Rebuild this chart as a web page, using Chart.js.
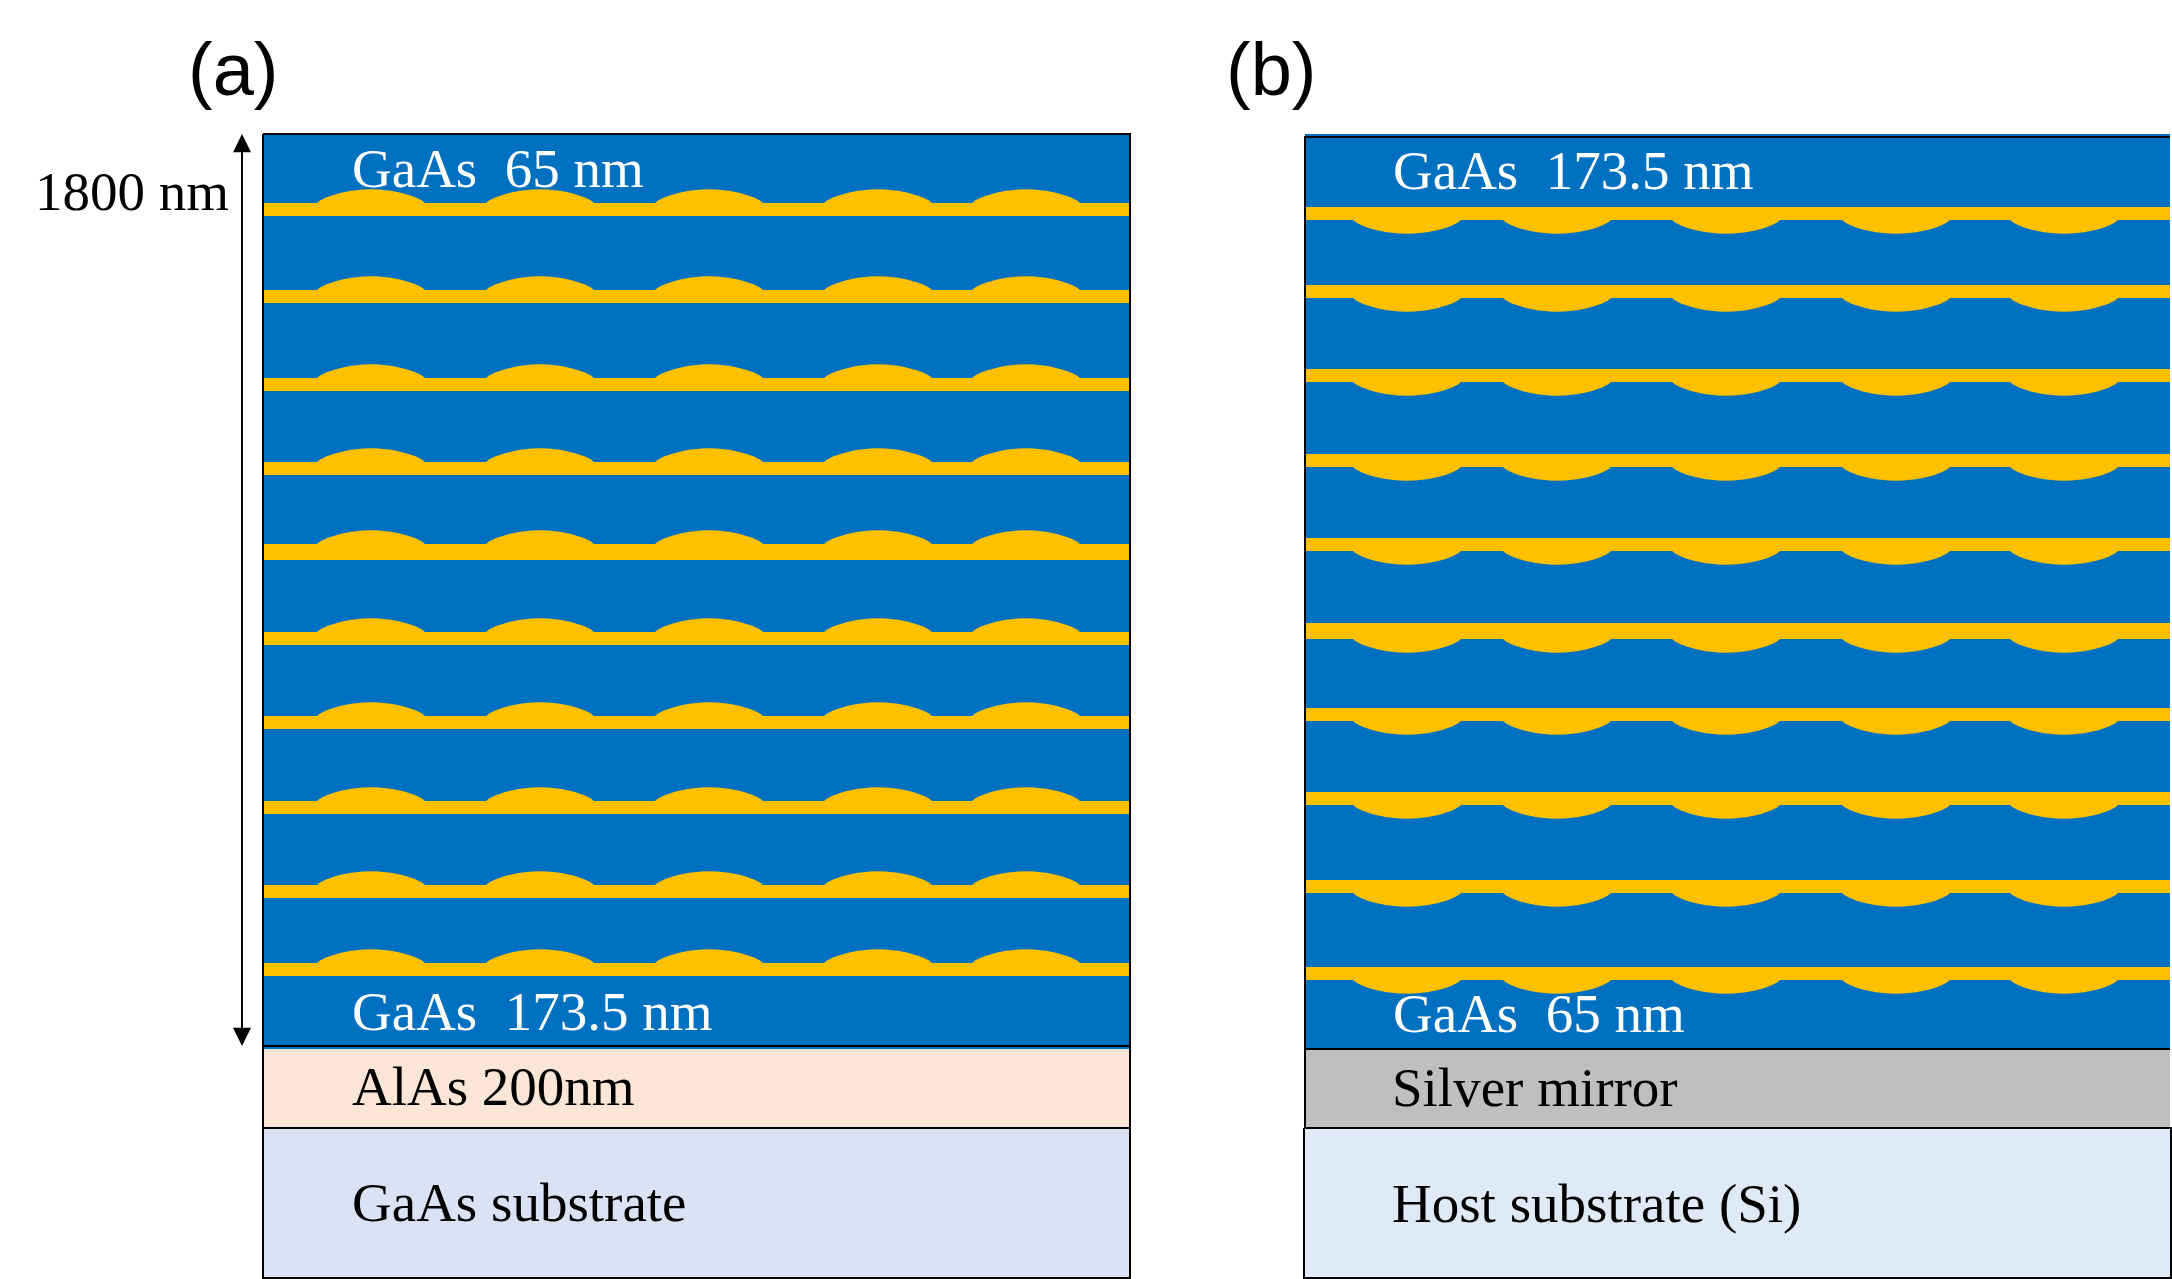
<!DOCTYPE html>
<html>
<head>
<meta charset="utf-8">
<title>GaAs stack</title>
<script src="https://cdn.jsdelivr.net/npm/chart.js@4"></script>
<style>
  html, body { margin: 0; padding: 0; background: #fff; }
  canvas { display: block; }
</style>
</head>
<body>
<canvas id="stackChart" width="2172" height="1279"></canvas>
<script>
const totalDepth = 1800;

// gold layers: depth of the flat top edge and thickness, top to bottom
const bandTopsA = [136.2, 307.9, 481.6, 647.4, 809.2, 982.9, 1148.7, 1316.4, 1482.2, 1636.2];
const bandThickA = [25.7, 25.7, 25.7, 25.7, 31.6, 25.7, 25.7, 25.7, 25.7, 25.7];
const bandTopsB = [144.1, 298.0, 463.8, 631.6, 797.4, 965.1, 1132.9, 1298.7, 1472.4, 1644.1];
const bandThickB = [25.7, 25.7, 25.7, 25.7, 25.7, 31.6, 25.7, 25.7, 25.7, 25.7];

// left foot of each island along the x axis
const islandStartsA = [317, 486, 655, 824, 972];
const islandStartsB = [1353, 1503, 1672, 1842, 2010];

// outline of one island: along the foot, and how far it sticks out in nm
const islandRun = [0, 3, 9, 14, 19, 24, 29, 34, 39, 46, 54, 62, 69, 74, 79, 84, 89, 94, 99, 105, 108];
const islandRise = [0, 5, 11, 14.5, 17.5, 20, 22.2, 24, 25.3, 26.5, 27, 26.5, 25.3, 24, 22.2, 20, 17.5, 14.5, 11, 5, 0];

// fills of the lower layers: depth range
const layerNamesA = ['GaAs stack', 'AlAs', 'GaAs substrate'];
const layerTopsA = [0, 1805.9, 1961.8];
const layerBottomsA = [1805.9, 1961.8, 2257.9];
const layerNamesB = ['GaAs stack', 'Silver mirror', 'Host substrate'];
const layerTopsB = [0, 1807.9, 1961.8];
const layerBottomsB = [1803.9, 1961.8, 2257.9];

const layerColorsA = ['#0070C0', '#FBE5D6', '#DAE3F3'];
const layerColorsB = ['#0070C0', '#BFBFBF', '#DEEBF7'];
const goldColor = '#FFC000';

const labels = [
  { text: '(a)', x: 188, y: -77, font: '74px "Liberation Sans"', color: '#000' },
  { text: '(b)', x: 1226, y: -77, font: '74px "Liberation Sans"', color: '#000' },
  { text: '1800 nm', x: 35, y: 150, font: '55px "Liberation Serif"', color: '#000' },
  { text: 'GaAs  65 nm', x: 352, y: 105, font: '55px "Liberation Serif"', color: '#fff' },
  { text: 'GaAs  173.5 nm', x: 352, y: 1768, font: '55px "Liberation Serif"', color: '#fff' },
  { text: 'AlAs 200nm', x: 352, y: 1917, font: '55px "Liberation Serif"', color: '#000' },
  { text: 'GaAs substrate', x: 352, y: 2145, font: '55px "Liberation Serif"', color: '#000' },
  { text: 'GaAs  173.5 nm', x: 1393, y: 109, font: '55px "Liberation Serif"', color: '#fff' },
  { text: 'GaAs  65 nm', x: 1393, y: 1772, font: '55px "Liberation Serif"', color: '#fff' },
  { text: 'Silver mirror', x: 1392, y: 1919, font: '55px "Liberation Serif"', color: '#000' },
  { text: 'Host substrate (Si)', x: 1392, y: 2147, font: '55px "Liberation Serif"', color: '#000' }
];

function rectPoints(x0, x1, top, bottom) {
  return [
    { x: x0, y: top }, { x: x1, y: top },
    { x: x1, y: bottom }, { x: x0, y: bottom }, { x: x0, y: top }
  ];
}

// band with islands on top (dir -1) or hanging under it (dir 1)
function bandPoints(x0, x1, starts, top, thick, dir) {
  const bottom = top + thick;
  const flat = dir < 0 ? top : bottom;
  const other = dir < 0 ? bottom : top;
  const pts = [{ x: x0, y: flat }];
  starts.forEach(start => {
    islandRun.forEach((run, i) => {
      pts.push({ x: start + run, y: flat + dir * islandRise[i] });
    });
  });
  pts.push({ x: x1, y: flat }, { x: x1, y: other }, { x: x0, y: other }, { x: x0, y: flat });
  return pts;
}

function shape(data, fill) {
  return {
    data: data,
    showLine: true,
    fill: 'shape',
    backgroundColor: fill,
    borderColor: fill,
    borderWidth: 0,
    pointRadius: 0
  };
}

function rule(data) {
  return { data: data, showLine: true, fill: false, borderColor: '#000', borderWidth: 2, pointRadius: 0 };
}

const datasets = [];
layerNamesA.forEach((name, i) => {
  datasets.push({ label: name, ...shape(rectPoints(263, 1130, layerTopsA[i], layerBottomsA[i]), layerColorsA[i]) });
});
layerNamesB.forEach((name, i) => {
  const right = i === 2 ? 2171 : 2170;
  const left = i === 2 ? 1304 : 1305;
  datasets.push({ label: name, ...shape(rectPoints(left, right, layerTopsB[i], layerBottomsB[i]), layerColorsB[i]) });
});
bandTopsA.forEach((top, i) => {
  datasets.push(shape(bandPoints(264, 1129, islandStartsA, top, bandThickA[i], -1), goldColor));
});
bandTopsB.forEach((top, i) => {
  datasets.push(shape(bandPoints(1306, 2170, islandStartsB, top, bandThickB[i], 1), goldColor));
});

// frame of panel a
datasets.push(rule(rectPoints(263, 1130, 0, 2257.9)));
datasets.push(rule([{ x: 263, y: totalDepth }, { x: 1130, y: totalDepth }]));
datasets.push(rule([{ x: 263, y: 1961.8 }, { x: 1130, y: 1961.8 }]));

// frame of panel b, open on the right above the substrate
datasets.push(rule([{ x: 2170, y: 5.9 }, { x: 1305, y: 5.9 }, { x: 1305, y: 1961.8 }]));
datasets.push(rule([{ x: 1305, y: 1805.9 }, { x: 2170, y: 1805.9 }]));
datasets.push(rule(rectPoints(1304, 2171, 1961.8, 2257.9)));

// depth arrow
datasets.push(rule([{ x: 242, y: 10 }, { x: 242, y: totalDepth - 10 }]));
datasets.push(shape([{ x: 242, y: 0 }, { x: 251, y: 36 }, { x: 233, y: 36 }, { x: 242, y: 0 }], '#000'));
datasets.push(shape([{ x: 242, y: totalDepth }, { x: 251, y: totalDepth - 36 }, { x: 233, y: totalDepth - 36 }, { x: 242, y: totalDepth }], '#000'));

// earlier datasets go underneath
datasets.forEach((d, i) => { d.order = datasets.length - i; });

const labelPlugin = {
  id: 'stackLabels',
  afterDraw(chart) {
    const ctx = chart.ctx;
    ctx.save();
    ctx.textBaseline = 'alphabetic';
    ctx.textAlign = 'left';
    labels.forEach(l => {
      ctx.font = l.font;
      ctx.fillStyle = l.color;
      ctx.fillText(l.text, chart.scales.x.getPixelForValue(l.x), chart.scales.y.getPixelForValue(l.y));
    });
    ctx.restore();
  }
};

new Chart(document.getElementById('stackChart').getContext('2d'), {
  type: 'scatter',
  data: { datasets: datasets },
  options: {
    responsive: false,
    animation: false,
    devicePixelRatio: 1,
    layout: { padding: 0 },
    plugins: { legend: { display: false }, tooltip: { enabled: false } },
    scales: {
      x: { type: 'linear', display: false, min: 0, max: 2172 },
      y: { type: 'linear', display: false, reverse: true, min: -264.47, max: 2259.87 }
    }
  },
  plugins: [labelPlugin]
});
</script>
</body>
</html>
